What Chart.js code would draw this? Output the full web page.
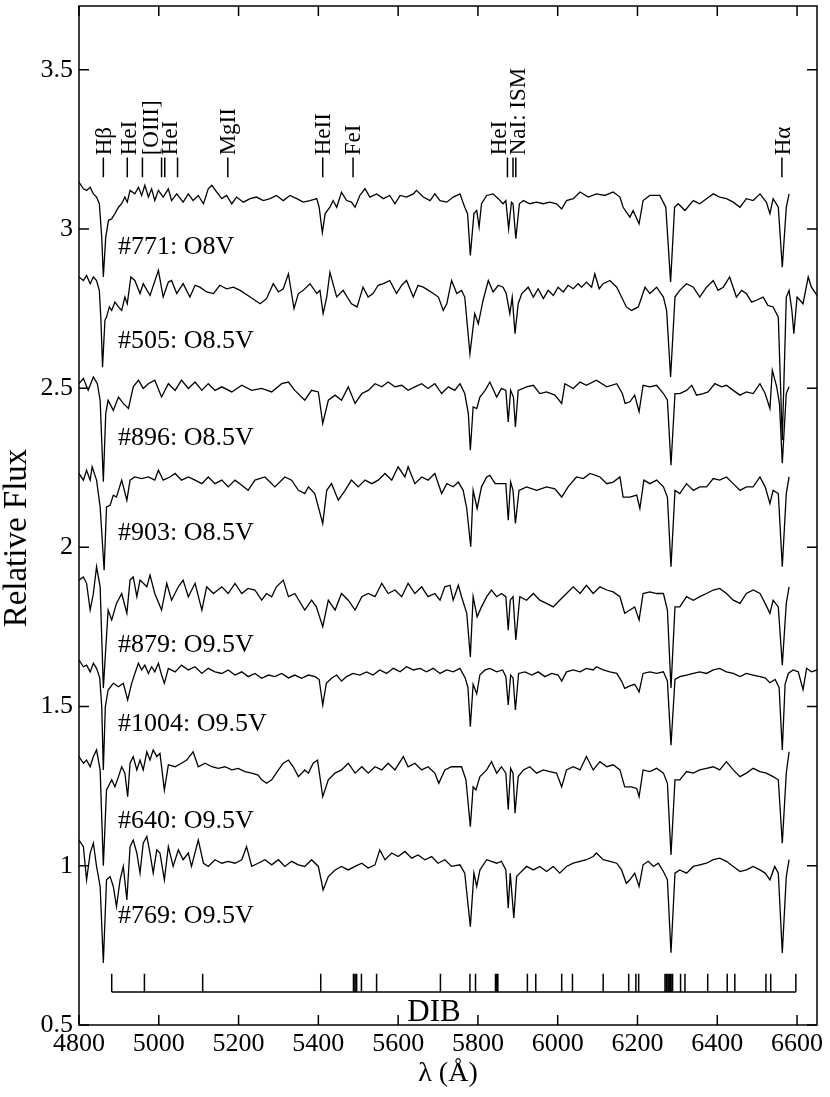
<!DOCTYPE html>
<html>
<head>
<meta charset="utf-8">
<script src="https://cdn.jsdelivr.net/npm/chart.js@4.4.0/dist/chart.umd.min.js"></script>
<style>
  html, body { margin: 0; padding: 0; background: #fff; }
  canvas { display: block; }
</style>
</head>
<body>
<canvas id="myChart" width="830" height="1097"></canvas>
<script>
'use strict';

let chartEl = document.getElementById('myChart');
let ctx = chartEl.getContext('2d');

// spectra: [wavelength (A), relative flux]
let spec771 = [[4800,3.147],[4811,3.126],[4819,3.121],[4828,3.131],[4836,3.110],[4844,3.100],[4851,3.079],[4857,2.974],[4861,2.849],[4867,2.974],[4874,3.027],[4882,3.032],[4890,3.048],[4899,3.068],[4907,3.079],[4915,3.100],[4921,3.084],[4928,3.121],[4940,3.110],[4949,3.131],[4957,3.105],[4965,3.137],[4974,3.100],[4982,3.126],[4990,3.089],[4999,3.121],[5011,3.100],[5024,3.126],[5032,3.089],[5045,3.110],[5061,3.084],[5074,3.110],[5086,3.089],[5099,3.105],[5112,3.079],[5124,3.126],[5133,3.137],[5145,3.116],[5158,3.095],[5170,3.105],[5183,3.079],[5195,3.100],[5212,3.084],[5229,3.095],[5245,3.100],[5262,3.089],[5279,3.095],[5295,3.105],[5312,3.089],[5329,3.105],[5346,3.095],[5362,3.084],[5379,3.089],[5396,3.095],[5402,3.068],[5410,2.988],[5417,3.048],[5429,3.068],[5437,3.089],[5446,3.068],[5458,3.115],[5471,3.089],[5483,3.084],[5492,3.068],[5504,3.105],[5517,3.126],[5529,3.100],[5546,3.110],[5563,3.095],[5579,3.105],[5592,3.079],[5605,3.105],[5621,3.100],[5638,3.110],[5646,3.121],[5663,3.100],[5680,3.089],[5692,3.110],[5705,3.089],[5722,3.084],[5738,3.100],[5755,3.110],[5767,3.068],[5774,3.048],[5781,2.917],[5790,3.048],[5797,3.058],[5803,3.006],[5809,3.079],[5822,3.105],[5838,3.110],[5851,3.095],[5863,3.079],[5870,3.089],[5877,3.000],[5884,3.084],[5888,3.079],[5895,2.969],[5904,3.079],[5914,3.089],[5930,3.079],[5947,3.084],[5964,3.079],[5980,3.084],[5997,3.079],[6010,3.063],[6022,3.089],[6039,3.095],[6056,3.116],[6077,3.100],[6097,3.110],[6118,3.105],[6139,3.116],[6156,3.100],[6164,3.068],[6181,3.037],[6189,3.058],[6204,3.016],[6214,3.089],[6231,3.105],[6256,3.105],[6271,3.068],[6283,2.833],[6293,3.068],[6302,3.079],[6319,3.058],[6340,3.089],[6356,3.079],[6373,3.095],[6390,3.110],[6406,3.100],[6423,3.095],[6440,3.084],[6457,3.068],[6473,3.095],[6490,3.089],[6507,3.110],[6523,3.084],[6532,3.048],[6540,3.095],[6553,3.068],[6563,2.880],[6573,3.068],[6580,3.110]];

let spec505 = [[4800,2.849],[4811,2.838],[4819,2.854],[4828,2.828],[4836,2.849],[4844,2.838],[4851,2.807],[4855,2.713],[4859,2.566],[4865,2.713],[4869,2.723],[4876,2.755],[4882,2.744],[4890,2.770],[4899,2.755],[4907,2.744],[4915,2.786],[4921,2.765],[4930,2.849],[4940,2.838],[4953,2.797],[4961,2.828],[4978,2.791],[4999,2.870],[5011,2.786],[5024,2.833],[5032,2.838],[5045,2.797],[5061,2.828],[5078,2.786],[5091,2.823],[5103,2.817],[5120,2.802],[5137,2.797],[5153,2.823],[5170,2.812],[5187,2.817],[5204,2.807],[5229,2.786],[5254,2.765],[5270,2.781],[5287,2.828],[5300,2.802],[5312,2.812],[5325,2.859],[5339,2.750],[5350,2.797],[5362,2.807],[5379,2.828],[5396,2.797],[5404,2.807],[5412,2.734],[5421,2.786],[5429,2.864],[5446,2.786],[5462,2.807],[5483,2.765],[5497,2.755],[5512,2.817],[5525,2.786],[5537,2.797],[5550,2.823],[5563,2.828],[5579,2.838],[5596,2.797],[5609,2.823],[5621,2.838],[5638,2.786],[5650,2.823],[5663,2.817],[5676,2.807],[5688,2.797],[5701,2.786],[5713,2.744],[5722,2.765],[5734,2.838],[5747,2.797],[5759,2.807],[5767,2.786],[5780,2.608],[5792,2.734],[5801,2.702],[5813,2.776],[5826,2.838],[5838,2.802],[5851,2.823],[5863,2.817],[5871,2.797],[5880,2.734],[5886,2.786],[5893,2.671],[5901,2.765],[5910,2.797],[5926,2.817],[5939,2.786],[5951,2.812],[5964,2.781],[5976,2.807],[5989,2.791],[6001,2.817],[6014,2.802],[6026,2.823],[6039,2.812],[6051,2.828],[6060,2.817],[6072,2.833],[6085,2.817],[6093,2.859],[6104,2.812],[6114,2.828],[6131,2.838],[6148,2.817],[6160,2.786],[6172,2.755],[6185,2.744],[6202,2.755],[6219,2.817],[6231,2.797],[6248,2.817],[6265,2.786],[6273,2.744],[6283,2.535],[6294,2.786],[6306,2.807],[6323,2.828],[6340,2.817],[6356,2.786],[6373,2.817],[6390,2.838],[6402,2.807],[6415,2.817],[6431,2.849],[6448,2.786],[6461,2.807],[6473,2.797],[6486,2.770],[6498,2.776],[6515,2.786],[6527,2.760],[6540,2.755],[6553,2.723],[6563,2.336],[6573,2.786],[6580,2.807],[6587,2.744],[6592,2.671],[6600,2.786],[6615,2.765],[6628,2.849],[6636,2.817],[6650,2.791]];

let spec896 = [[4800,2.514],[4811,2.530],[4823,2.493],[4836,2.535],[4846,2.514],[4853,2.462],[4861,2.206],[4867,2.420],[4873,2.462],[4886,2.430],[4899,2.472],[4911,2.452],[4924,2.436],[4936,2.504],[4949,2.525],[4961,2.499],[4974,2.514],[4990,2.525],[5007,2.472],[5024,2.514],[5041,2.493],[5057,2.525],[5074,2.499],[5091,2.519],[5108,2.493],[5124,2.514],[5141,2.493],[5158,2.504],[5183,2.488],[5208,2.509],[5233,2.493],[5258,2.499],[5283,2.488],[5308,2.514],[5325,2.519],[5341,2.493],[5366,2.462],[5383,2.493],[5400,2.488],[5411,2.389],[5425,2.462],[5442,2.478],[5458,2.462],[5475,2.504],[5492,2.452],[5509,2.483],[5525,2.493],[5542,2.514],[5559,2.504],[5575,2.519],[5592,2.504],[5609,2.509],[5625,2.493],[5642,2.504],[5659,2.514],[5675,2.499],[5692,2.514],[5709,2.483],[5726,2.504],[5742,2.493],[5755,2.514],[5767,2.483],[5776,2.420],[5781,2.305],[5788,2.441],[5797,2.436],[5805,2.472],[5818,2.493],[5830,2.519],[5847,2.472],[5859,2.499],[5870,2.493],[5876,2.394],[5882,2.493],[5889,2.472],[5894,2.378],[5901,2.493],[5922,2.504],[5939,2.509],[5955,2.483],[5972,2.488],[5993,2.478],[6010,2.452],[6018,2.514],[6039,2.499],[6056,2.519],[6072,2.509],[6097,2.525],[6123,2.504],[6148,2.514],[6162,2.483],[6169,2.452],[6181,2.457],[6193,2.478],[6204,2.426],[6214,2.509],[6231,2.504],[6248,2.509],[6265,2.483],[6275,2.462],[6284,2.258],[6294,2.483],[6306,2.483],[6323,2.493],[6336,2.509],[6348,2.478],[6365,2.483],[6377,2.488],[6394,2.514],[6411,2.504],[6423,2.509],[6440,2.493],[6457,2.478],[6473,2.488],[6490,2.483],[6507,2.514],[6520,2.483],[6532,2.436],[6538,2.556],[6549,2.504],[6556,2.450],[6563,2.264],[6573,2.483],[6580,2.504]];

let spec903 = [[4800,2.232],[4811,2.211],[4819,2.242],[4828,2.211],[4833,2.253],[4844,2.211],[4853,2.127],[4863,1.928],[4869,2.127],[4878,2.132],[4886,2.164],[4894,2.158],[4907,2.211],[4920,2.148],[4928,2.211],[4940,2.221],[4957,2.216],[4974,2.221],[4990,2.211],[4999,2.242],[5011,2.211],[5028,2.221],[5041,2.232],[5057,2.211],[5074,2.221],[5091,2.211],[5108,2.200],[5124,2.221],[5141,2.200],[5158,2.211],[5174,2.190],[5191,2.211],[5208,2.195],[5224,2.179],[5241,2.211],[5266,2.221],[5291,2.190],[5316,2.221],[5333,2.211],[5350,2.179],[5366,2.169],[5375,2.190],[5391,2.169],[5411,2.075],[5421,2.179],[5433,2.200],[5450,2.148],[5467,2.179],[5483,2.211],[5500,2.190],[5517,2.211],[5534,2.200],[5550,2.211],[5567,2.232],[5584,2.211],[5600,2.253],[5617,2.221],[5625,2.253],[5642,2.200],[5659,2.221],[5675,2.211],[5692,2.232],[5709,2.169],[5722,2.200],[5738,2.190],[5751,2.205],[5763,2.179],[5772,2.122],[5782,2.002],[5788,2.179],[5798,2.122],[5809,2.190],[5822,2.221],[5830,2.226],[5843,2.200],[5859,2.200],[5870,2.200],[5876,2.085],[5882,2.205],[5888,2.179],[5894,2.075],[5903,2.179],[5922,2.190],[5947,2.179],[5972,2.190],[5993,2.184],[6010,2.158],[6026,2.190],[6047,2.221],[6064,2.216],[6081,2.232],[6106,2.221],[6123,2.200],[6139,2.205],[6156,2.221],[6164,2.158],[6181,2.158],[6198,2.164],[6206,2.122],[6216,2.211],[6231,2.200],[6248,2.211],[6265,2.190],[6275,2.158],[6284,1.939],[6294,2.179],[6306,2.169],[6323,2.200],[6340,2.179],[6356,2.190],[6373,2.190],[6390,2.216],[6406,2.211],[6423,2.221],[6440,2.200],[6457,2.179],[6473,2.190],[6490,2.190],[6507,2.221],[6520,2.190],[6532,2.138],[6540,2.179],[6553,2.169],[6563,1.939],[6573,2.169],[6580,2.221]];

let spec879 = [[4800,1.897],[4811,1.907],[4819,1.887],[4828,1.803],[4836,1.855],[4844,1.939],[4853,1.876],[4861,1.558],[4873,1.803],[4882,1.772],[4894,1.824],[4907,1.855],[4920,1.793],[4928,1.897],[4936,1.907],[4945,1.845],[4953,1.897],[4970,1.876],[4978,1.913],[4990,1.855],[5007,1.803],[5020,1.887],[5032,1.834],[5049,1.876],[5061,1.897],[5074,1.845],[5091,1.887],[5108,1.803],[5120,1.876],[5137,1.855],[5158,1.876],[5174,1.855],[5191,1.887],[5208,1.855],[5224,1.871],[5241,1.866],[5258,1.834],[5270,1.855],[5283,1.845],[5295,1.876],[5312,1.897],[5325,1.845],[5341,1.855],[5366,1.803],[5383,1.834],[5395,1.813],[5411,1.751],[5425,1.834],[5442,1.803],[5458,1.855],[5475,1.834],[5492,1.803],[5509,1.845],[5525,1.855],[5542,1.845],[5559,1.887],[5575,1.855],[5592,1.866],[5609,1.845],[5625,1.887],[5642,1.855],[5659,1.876],[5675,1.845],[5692,1.855],[5705,1.834],[5717,1.876],[5730,1.881],[5738,1.834],[5751,1.881],[5759,1.845],[5772,1.793],[5781,1.656],[5788,1.845],[5798,1.782],[5809,1.813],[5822,1.845],[5834,1.866],[5847,1.845],[5859,1.855],[5870,1.845],[5876,1.740],[5881,1.834],[5888,1.845],[5895,1.709],[5905,1.845],[5922,1.834],[5939,1.855],[5955,1.834],[5972,1.824],[5989,1.813],[6005,1.834],[6022,1.855],[6039,1.876],[6056,1.855],[6072,1.881],[6089,1.855],[6106,1.876],[6123,1.866],[6139,1.860],[6156,1.845],[6168,1.793],[6181,1.803],[6193,1.813],[6204,1.772],[6214,1.855],[6231,1.860],[6248,1.855],[6265,1.855],[6275,1.803],[6284,1.558],[6294,1.813],[6306,1.813],[6323,1.845],[6340,1.834],[6356,1.845],[6373,1.855],[6390,1.866],[6406,1.871],[6423,1.855],[6440,1.834],[6457,1.824],[6473,1.855],[6490,1.866],[6507,1.855],[6520,1.824],[6532,1.793],[6540,1.834],[6553,1.813],[6563,1.630],[6573,1.824],[6580,1.876]];

let spec1004 = [[4800,1.646],[4811,1.625],[4819,1.630],[4828,1.609],[4836,1.636],[4844,1.620],[4852,1.590],[4857,1.500],[4861,1.301],[4866,1.500],[4873,1.552],[4886,1.573],[4899,1.562],[4911,1.573],[4922,1.521],[4932,1.573],[4940,1.604],[4949,1.636],[4957,1.615],[4965,1.630],[4974,1.604],[4982,1.625],[4990,1.609],[4999,1.636],[5007,1.599],[5014,1.573],[5024,1.620],[5041,1.609],[5057,1.630],[5074,1.615],[5091,1.625],[5108,1.604],[5124,1.620],[5141,1.609],[5158,1.604],[5174,1.615],[5191,1.599],[5208,1.609],[5224,1.594],[5241,1.604],[5258,1.589],[5275,1.599],[5291,1.594],[5308,1.604],[5325,1.590],[5341,1.599],[5358,1.589],[5375,1.599],[5392,1.594],[5402,1.585],[5411,1.505],[5420,1.573],[5433,1.589],[5446,1.599],[5458,1.580],[5471,1.594],[5487,1.604],[5504,1.599],[5521,1.609],[5537,1.599],[5554,1.615],[5571,1.604],[5588,1.620],[5605,1.609],[5621,1.625],[5638,1.615],[5655,1.620],[5671,1.609],[5688,1.620],[5705,1.604],[5722,1.615],[5738,1.609],[5755,1.620],[5768,1.590],[5775,1.560],[5781,1.437],[5788,1.570],[5797,1.540],[5805,1.600],[5818,1.615],[5830,1.620],[5847,1.609],[5862,1.615],[5870,1.594],[5876,1.505],[5882,1.599],[5888,1.590],[5894,1.489],[5902,1.604],[5918,1.609],[5935,1.599],[5951,1.609],[5968,1.594],[5985,1.604],[6001,1.599],[6010,1.580],[6022,1.609],[6039,1.615],[6056,1.609],[6072,1.620],[6089,1.615],[6097,1.625],[6114,1.615],[6131,1.609],[6148,1.604],[6160,1.580],[6168,1.557],[6181,1.565],[6193,1.570],[6204,1.546],[6214,1.604],[6231,1.609],[6248,1.604],[6265,1.609],[6275,1.580],[6284,1.379],[6294,1.585],[6306,1.594],[6323,1.599],[6340,1.604],[6356,1.609],[6373,1.604],[6390,1.615],[6406,1.620],[6423,1.609],[6440,1.604],[6457,1.594],[6473,1.604],[6490,1.599],[6507,1.594],[6520,1.590],[6532,1.575],[6545,1.585],[6555,1.560],[6563,1.364],[6570,1.570],[6578,1.604],[6590,1.615],[6603,1.609],[6615,1.553],[6624,1.620],[6636,1.609],[6650,1.615]];

let spec640 = [[4800,1.343],[4811,1.322],[4819,1.332],[4828,1.311],[4836,1.343],[4844,1.364],[4853,1.301],[4861,1.000],[4869,1.238],[4873,1.248],[4882,1.270],[4890,1.248],[4899,1.280],[4907,1.311],[4915,1.291],[4922,1.217],[4928,1.322],[4936,1.343],[4945,1.301],[4953,1.332],[4961,1.301],[4970,1.358],[4978,1.332],[4986,1.364],[4995,1.343],[5003,1.353],[5014,1.238],[5024,1.317],[5041,1.311],[5057,1.322],[5070,1.332],[5086,1.358],[5099,1.311],[5116,1.322],[5133,1.311],[5149,1.306],[5166,1.311],[5183,1.301],[5199,1.306],[5216,1.296],[5233,1.291],[5249,1.285],[5258,1.270],[5270,1.259],[5283,1.270],[5300,1.301],[5312,1.322],[5325,1.332],[5337,1.311],[5350,1.280],[5366,1.301],[5375,1.291],[5387,1.322],[5398,1.332],[5411,1.217],[5425,1.270],[5442,1.291],[5458,1.301],[5475,1.322],[5492,1.291],[5509,1.311],[5525,1.291],[5542,1.311],[5559,1.301],[5575,1.322],[5592,1.301],[5613,1.343],[5625,1.311],[5642,1.322],[5659,1.301],[5675,1.311],[5692,1.291],[5702,1.259],[5717,1.301],[5734,1.311],[5759,1.311],[5770,1.270],[5781,1.123],[5788,1.248],[5795,1.238],[5805,1.280],[5822,1.301],[5834,1.327],[5847,1.291],[5859,1.311],[5870,1.291],[5876,1.176],[5882,1.306],[5888,1.291],[5893,1.165],[5901,1.280],[5914,1.301],[5930,1.311],[5947,1.291],[5964,1.301],[5980,1.296],[5997,1.291],[6010,1.248],[6022,1.301],[6039,1.311],[6056,1.301],[6072,1.343],[6089,1.301],[6106,1.327],[6123,1.311],[6139,1.317],[6156,1.301],[6168,1.248],[6185,1.248],[6198,1.243],[6204,1.217],[6214,1.301],[6231,1.296],[6248,1.306],[6265,1.291],[6275,1.259],[6284,1.034],[6294,1.270],[6306,1.270],[6323,1.296],[6340,1.291],[6356,1.301],[6373,1.306],[6390,1.311],[6406,1.301],[6423,1.327],[6440,1.301],[6457,1.280],[6473,1.291],[6490,1.306],[6507,1.296],[6523,1.291],[6540,1.280],[6553,1.270],[6563,1.071],[6573,1.291],[6580,1.358]];

let spec769 = [[4800,1.081],[4811,1.060],[4819,0.956],[4828,1.040],[4836,1.071],[4844,0.998],[4853,0.935],[4861,0.695],[4869,0.956],[4878,0.966],[4886,0.935],[4894,0.872],[4903,0.956],[4911,0.998],[4920,0.893],[4928,1.060],[4936,1.081],[4945,1.040],[4953,0.977],[4961,1.071],[4970,1.092],[4978,1.040],[4986,0.977],[4995,1.050],[5003,1.040],[5014,0.956],[5024,1.060],[5036,0.998],[5049,1.050],[5061,1.019],[5074,1.040],[5082,0.998],[5099,1.081],[5112,1.008],[5124,0.998],[5141,1.019],[5158,1.008],[5174,1.014],[5191,1.008],[5208,1.019],[5220,1.060],[5233,0.998],[5249,1.008],[5266,1.019],[5283,1.003],[5300,1.019],[5316,0.998],[5333,1.014],[5350,1.003],[5366,0.998],[5383,1.019],[5400,0.998],[5412,0.924],[5425,0.966],[5442,0.987],[5458,0.998],[5475,0.987],[5492,0.998],[5509,1.008],[5525,0.993],[5542,1.003],[5554,1.050],[5567,1.019],[5584,1.040],[5600,1.029],[5617,1.045],[5634,1.024],[5650,1.034],[5667,1.019],[5684,1.029],[5700,1.008],[5717,1.019],[5734,0.998],[5755,1.003],[5767,0.977],[5781,0.809],[5790,0.977],[5797,0.935],[5805,0.987],[5822,1.019],[5834,1.014],[5847,1.008],[5859,1.014],[5870,0.987],[5876,0.867],[5881,0.977],[5890,0.836],[5897,0.966],[5905,0.977],[5922,0.998],[5939,0.987],[5955,0.998],[5972,0.982],[5989,0.998],[6005,0.977],[6022,0.998],[6039,1.008],[6056,1.014],[6072,1.019],[6089,1.029],[6097,1.040],[6114,1.019],[6131,1.014],[6148,1.008],[6160,0.987],[6172,0.945],[6181,0.956],[6193,0.977],[6204,0.935],[6214,1.003],[6227,1.014],[6240,0.998],[6252,1.008],[6265,0.982],[6275,0.956],[6284,0.727],[6294,0.977],[6306,0.987],[6323,0.977],[6340,0.998],[6356,1.003],[6373,1.008],[6390,1.019],[6406,1.024],[6423,1.014],[6440,0.998],[6457,0.982],[6473,0.987],[6490,0.998],[6507,0.987],[6520,0.977],[6532,0.956],[6544,0.998],[6553,0.977],[6563,0.726],[6573,0.966],[6580,1.019]];

let spectra = [spec771, spec505, spec896, spec903, spec879, spec1004, spec640, spec769];
let starNames = ['#771: O8V', '#505: O8.5V', '#896: O8.5V', '#903: O8.5V', '#879: O9.5V', '#1004: O9.5V', '#640: O9.5V', '#769: O9.5V'];
let starLabelFlux = [2.920, 2.625, 2.321, 2.023, 1.671, 1.423, 1.119, 0.821];
let starLabelLam = 4898;

// line identifications at the top
let lineTicks = [4861, 4921, 4959, 5007, 5015, 5047, 5173, 5411, 5487, 5874, 5888, 5895, 6562];
let lineNames = ['Hβ', 'HeI', '[OIII]', 'HeI', 'MgII', 'HeII', 'FeI', 'HeI', 'NaI: ISM', 'Hα'];
let lineNameLam = [4864, 4927, 4984, 5031, 5175, 5413, 5489, 5854, 5903, 6566];

// diffuse interstellar bands
let dibLam = [4882, 4964, 5110, 5406, 5488, 5492, 5496, 5508, 5546, 5706, 5780, 5794, 5844, 5847, 5850, 5924, 5945, 6010, 6037, 6114, 6178, 6196, 6203, 6269, 6273, 6277, 6281, 6284, 6288, 6308, 6319, 6376, 6425, 6444, 6522, 6534, 6597];

let serif = "'Liberation Serif', 'Times New Roman', serif";

let annotate = {
  id: 'annotate',
  afterDatasetsDraw(chart) {
    let c = chart.ctx;
    let xs = chart.scales.x;
    let ys = chart.scales.y;
    let a = chart.chartArea;
    c.save();
    c.strokeStyle = '#000';
    c.fillStyle = '#000';

    // frame with inward ticks on all sides
    c.lineWidth = 1.5;
    c.strokeRect(a.left, a.top, a.right - a.left, a.bottom - a.top);
    c.beginPath();
    xs.ticks.forEach(function (t) {
      let px = xs.getPixelForValue(t.value);
      c.moveTo(px, a.bottom); c.lineTo(px, a.bottom - 10);
      c.moveTo(px, a.top); c.lineTo(px, a.top + 10);
    });
    ys.ticks.forEach(function (t) {
      let py = ys.getPixelForValue(t.value);
      c.moveTo(a.left, py); c.lineTo(a.left + 10, py);
      c.moveTo(a.right, py); c.lineTo(a.right - 10, py);
    });
    c.stroke();

    // line id ticks
    c.beginPath();
    lineTicks.forEach(function (l) {
      let px = xs.getPixelForValue(l);
      c.moveTo(px, ys.getPixelForValue(3.162));
      c.lineTo(px, ys.getPixelForValue(3.224));
    });
    c.stroke();

    c.font = '23px ' + serif;
    c.textAlign = 'left';
    c.textBaseline = 'middle';
    for (let i = 0; i < lineNames.length; i++) {
      c.save();
      c.translate(xs.getPixelForValue(lineNameLam[i]), ys.getPixelForValue(3.231));
      c.rotate(-Math.PI / 2);
      c.fillText(lineNames[i], 0, 0);
      c.restore();
    }

    // star labels
    c.font = '26px ' + serif;
    c.textBaseline = 'alphabetic';
    for (let i = 0; i < starNames.length; i++) {
      c.fillText(starNames[i], xs.getPixelForValue(starLabelLam), ys.getPixelForValue(starLabelFlux[i]));
    }

    // DIB bar
    c.beginPath();
    let base = ys.getPixelForValue(0.604);
    let top = ys.getPixelForValue(0.661);
    c.moveTo(xs.getPixelForValue(dibLam[0]), base);
    c.lineTo(xs.getPixelForValue(dibLam[dibLam.length - 1]), base);
    dibLam.forEach(function (l) {
      let px = xs.getPixelForValue(l);
      c.moveTo(px, base);
      c.lineTo(px, top);
    });
    c.stroke();
    c.font = '31px ' + serif;
    c.textAlign = 'center';
    c.fillText('DIB', xs.getPixelForValue(5690), ys.getPixelForValue(0.512));

    // y axis title
    c.font = '33px ' + serif;
    c.textBaseline = 'middle';
    c.translate(17, 538);
    c.rotate(-Math.PI / 2);
    c.fillText('Relative Flux', 0, 0);
    c.restore();
  }
};

function noEdgePadding(s) {
  s.paddingTop = 0;
  s.paddingBottom = 0;
  s.paddingLeft = 0;
  s.paddingRight = 0;
}

new Chart(ctx, {
  type: 'line',
  data: {
    datasets: spectra.map(function (s, i) {
      return {
        label: starNames[i],
        data: s.map(function (p) { return { x: p[0], y: p[1] }; }),
        borderColor: '#000',
        borderWidth: 1.3,
        pointRadius: 0,
        tension: 0,
        fill: false
      };
    })
  },
  options: {
    responsive: false,
    animation: false,
    devicePixelRatio: 1,
    layout: { padding: { left: 0, right: 13, top: 6, bottom: 0 } },
    plugins: { legend: { display: false }, tooltip: { enabled: false } },
    scales: {
      x: {
        type: 'linear',
        min: 4800,
        max: 6650,
        grid: { display: false, drawTicks: false },
        border: { display: false },
        ticks: {
          stepSize: 200,
          includeBounds: false,
          padding: 4,
          color: '#000',
          font: { family: serif, size: 26 },
          callback: function (v) { return String(v); }
        },
        title: {
          display: true,
          text: 'λ (Å)',
          color: '#000',
          font: { family: serif, size: 28 },
          padding: { top: 0, bottom: 7 }
        },
        afterFit: function (s) { s.height = 72; noEdgePadding(s); }
      },
      y: {
        type: 'linear',
        min: 0.5,
        max: 3.7,
        grid: { display: false, drawTicks: false },
        border: { display: false },
        ticks: {
          stepSize: 0.5,
          includeBounds: false,
          padding: 6,
          color: '#000',
          font: { family: serif, size: 26 },
          callback: function (v) { return String(v); }
        },
        afterFit: function (s) { s.width = 79; noEdgePadding(s); }
      }
    }
  },
  plugins: [annotate]
});
</script>
</body>
</html>
